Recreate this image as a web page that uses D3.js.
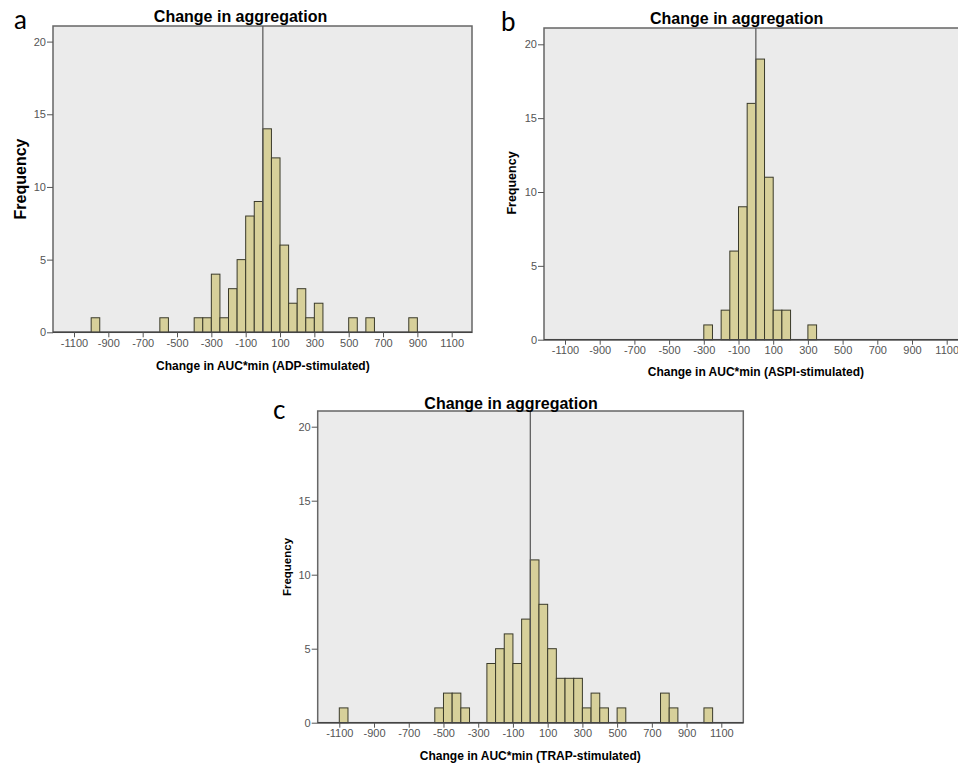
<!DOCTYPE html>
<html>
<head>
<meta charset="utf-8">
<script src="https://cdn.jsdelivr.net/npm/d3@7"></script>
<style>
	body { margin: 0; background: #fff; }
	svg { display: block; }
	.tick text { font-family: "Liberation Sans Narrow", "Arial Narrow", "Liberation Sans", sans-serif; fill: #555; }
</style>
</head>
<body>
<svg id="chart" width="958" height="766"></svg>
<script>
var binWidth = 50;

// panel a - ADP
var adpStarts = [-1000, -600, -400, -350, -300, -250, -200, -150, -100, -50, 0, 50, 100, 150, 200, 250, 300, 500, 600, 850];
var adpCounts = [1, 1, 1, 1, 4, 1, 3, 5, 8, 9, 14, 12, 6, 2, 3, 1, 2, 1, 1, 1];

// panel b - ASPI
var aspiStarts = [-300, -200, -150, -100, -50, 0, 50, 100, 150, 300];
var aspiCounts = [1, 2, 6, 9, 16, 19, 11, 2, 2, 1];

// panel c - TRAP
var trapStarts = [-1100, -550, -500, -450, -400, -250, -200, -150, -100, -50, 0, 50, 100, 150, 200, 250, 300, 350, 400, 500, 750, 800, 1000];
var trapCounts = [1, 1, 2, 2, 1, 4, 5, 6, 4, 7, 11, 8, 5, 3, 3, 3, 1, 2, 1, 1, 2, 1, 1];

var xTicks = [-1100, -900, -700, -500, -300, -100, 100, 300, 500, 700, 900, 1100];
var yTicks = [0, 5, 10, 15, 20];

var titleText = "Change in aggregation";
var yLabel = "Frequency";

var svg = d3.select("#chart");

function drawPanel(p) {
	var x = d3.scaleLinear().domain([-1100, 1100]).range([p.xa, p.xb]);
	var y = d3.scaleLinear().domain([0, 20]).range([p.y0, p.y20]);
	var g = svg.append("g").attr("class", "panel");

	// plot background
	g.append("rect")
		.attr("x", p.left)
		.attr("y", p.top)
		.attr("width", p.right - p.left)
		.attr("height", p.y0 - p.top)
		.attr("fill", "#ebebeb")
		.attr("stroke", "#666")
		.attr("stroke-width", 1.5);

	var bins = p.starts.map(function(s, i) {
		return { x0: s, x1: s + binWidth, n: p.counts[i] };
	});

	g.selectAll(".bar")
		.data(bins)
		.enter()
		.append("rect")
		.attr("class", "bar")
		.attr("x", (d) => x(d.x0))
		.attr("y", (d) => y(d.n))
		.attr("width", (d) => x(d.x1) - x(d.x0))
		.attr("height", (d) => y(0) - y(d.n))
		.attr("fill", "#d7d09a")
		.attr("stroke", "#3a3a2a")
		.attr("stroke-width", 1);

	// reference line at zero
	g.append("line")
		.attr("x1", x(0))
		.attr("x2", x(0))
		.attr("y1", p.top)
		.attr("y2", p.y0)
		.attr("stroke", "#555")
		.attr("stroke-width", 1.2);

	// axes
	var xAxis = g.append("g")
		.attr("transform", "translate(0," + p.y0 + ")")
		.call(d3.axisBottom(x).tickValues(xTicks).tickSize(5).tickPadding(2).tickFormat((d) => String(d)));
	xAxis.select(".domain").attr("d", "M" + p.left + ",0H" + p.right).attr("stroke", "#444").attr("stroke-width", 1.5);
	xAxis.selectAll(".tick line").attr("stroke", "#555");
	xAxis.selectAll(".tick text").style("font-size", "11px");

	var yAxis = g.append("g")
		.attr("transform", "translate(" + p.left + ",0)")
		.call(d3.axisLeft(y).tickValues(yTicks).tickSize(6).tickPadding(1));
	yAxis.select(".domain").remove();
	yAxis.selectAll(".tick line").attr("stroke", "#555");
	yAxis.selectAll(".tick text").style("font-size", "11px");

	// titles
	g.append("text")
		.attr("x", p.titleX)
		.attr("y", p.titleY)
		.attr("text-anchor", "middle")
		.style("font-family", "Liberation Sans, Arial, sans-serif")
		.style("font-weight", "bold")
		.style("font-size", "16px")
		.text(titleText);

	g.append("text")
		.attr("x", x(0))
		.attr("y", p.xLabelY)
		.attr("text-anchor", "middle")
		.style("font-family", "Liberation Sans, Arial, sans-serif")
		.style("font-weight", "bold")
		.style("font-size", "12px")
		.text(p.xLabel);

	g.append("text")
		.attr("transform", "translate(" + p.yLabelX + "," + p.yLabelY + ") rotate(-90)")
		.attr("text-anchor", "middle")
		.style("font-family", "Liberation Sans, Arial, sans-serif")
		.style("font-weight", "bold")
		.style("font-size", p.yLabelSize + "px")
		.text(yLabel);

	g.append("text")
		.attr("x", p.letterX)
		.attr("y", p.letterY)
		.style("font-family", "Lato, sans-serif")
		.style("font-size", "26px")
		.text(p.letter);
}

drawPanel({
	starts: adpStarts, counts: adpCounts,
	xa: 74, xb: 451.7, y0: 332.3, y20: 41.6,
	left: 53, right: 472, top: 26,
	titleX: 240.5, titleY: 22,
	xLabel: "Change in AUC*min (ADP-stimulated)", xLabelY: 370,
	yLabelX: 26, yLabelY: 179, yLabelSize: 16,
	letter: "a", letterX: 14, letterY: 29
});

drawPanel({
	starts: aspiStarts, counts: aspiCounts,
	xa: 565, xb: 946.7, y0: 339.7, y20: 44.3,
	left: 544, right: 969, top: 28,
	titleX: 736.7, titleY: 24,
	xLabel: "Change in AUC*min (ASPI-stimulated)", xLabelY: 376,
	yLabelX: 516, yLabelY: 183, yLabelSize: 12.5,
	letter: "b", letterX: 501, letterY: 30.5
});

drawPanel({
	starts: trapStarts, counts: trapCounts,
	xa: 339.3, xb: 721.3, y0: 722.7, y20: 426.7,
	left: 317.7, right: 743.3, top: 411,
	titleX: 511, titleY: 408.5,
	xLabel: "Change in AUC*min (TRAP-stimulated)", xLabelY: 760,
	yLabelX: 290.5, yLabelY: 567, yLabelSize: 11.5,
	letter: "c", letterX: 273, letterY: 419
});
</script>
</body>
</html>
